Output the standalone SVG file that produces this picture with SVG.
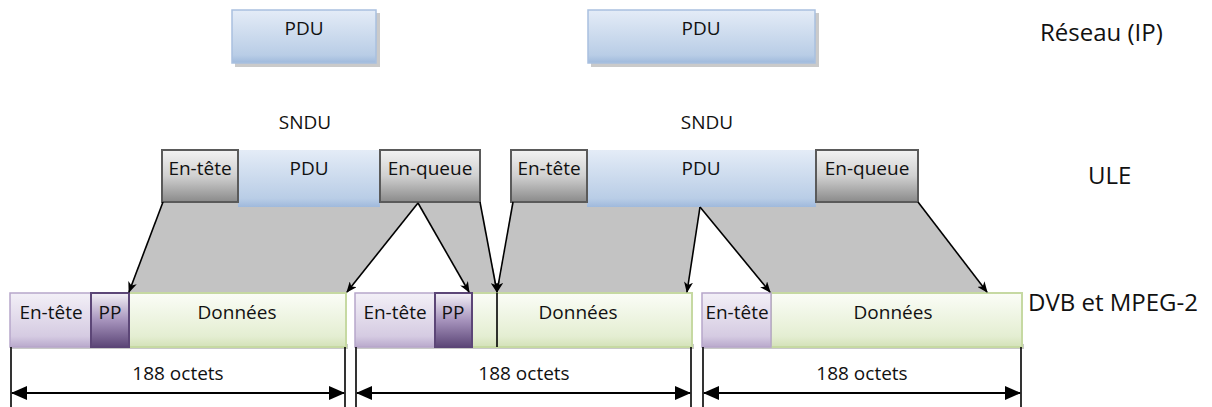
<svg xmlns="http://www.w3.org/2000/svg" width="1212" height="407" viewBox="0 0 1212 407">
<defs>
<linearGradient id="gBlue" x1="0" y1="0" x2="0" y2="1"><stop offset="0" stop-color="#e4ecf7"/><stop offset="0.85" stop-color="#b9cde6"/><stop offset="1" stop-color="#9fb9dc"/></linearGradient>
<linearGradient id="gGray" x1="0" y1="0" x2="0" y2="1"><stop offset="0" stop-color="#f2f2f2"/><stop offset="0.5" stop-color="#d0d0d0"/><stop offset="1" stop-color="#8a8a8a"/></linearGradient>
<linearGradient id="gLav" x1="0" y1="0" x2="0" y2="1"><stop offset="0" stop-color="#f3f0f7"/><stop offset="0.8" stop-color="#d5cbe2"/><stop offset="1" stop-color="#b9a9cc"/></linearGradient>
<linearGradient id="gPP" x1="0" y1="0" x2="0" y2="1"><stop offset="0" stop-color="#f4f1f7"/><stop offset="0.5" stop-color="#a794bd"/><stop offset="1" stop-color="#5c4677"/></linearGradient>
<linearGradient id="gGreen" x1="0" y1="0" x2="0" y2="1"><stop offset="0" stop-color="#fbfdf7"/><stop offset="0.8" stop-color="#e4eed2"/><stop offset="1" stop-color="#d3e1b8"/></linearGradient>
<marker id="ah" markerUnits="userSpaceOnUse" markerWidth="11" markerHeight="9" refX="10" refY="4.5" orient="auto"><path d="M0,0 L11,4.5 L0,9 L3,4.5 z" fill="#000"/></marker>
<marker id="dh" markerUnits="userSpaceOnUse" markerWidth="16" markerHeight="14" refX="15" refY="7" orient="auto-start-reverse"><path d="M0,0 L16,7 L0,14 z" fill="#000"/></marker>
</defs>
<style>
text{font-family:"Open Sans","Liberation Sans",sans-serif;fill:#111;text-anchor:middle}
.t{font-size:19px}
.big{font-size:24px;text-anchor:start}
.pdu{fill:url(#gBlue);stroke:#a9c0df;stroke-width:1.5}
.shadow{fill:#a6a6a6;opacity:0.6}
.gry{fill:url(#gGray);stroke:#5a5a5a;stroke-width:2}
.upd{fill:url(#gBlue);stroke:none}
.lav{fill:url(#gLav);stroke:#b7a6ca;stroke-width:1.5}
.pp{fill:url(#gPP);stroke:#5c4677;stroke-width:2}
.grn{fill:url(#gGreen);stroke:#c6d9a2;stroke-width:2}
.sh2{fill:#b0b0b0;opacity:0.7}
.conn{stroke:#000;stroke-width:1.6;fill:none;marker-end:url(#ah)}
.dim{stroke:#000;stroke-width:1.6;fill:none}
.dimarrow{stroke:#000;stroke-width:2;fill:none;marker-start:url(#dh);marker-end:url(#dh)}
.band{fill:#c3c3c3}
</style>

<g id="bands">
<polygon class="band" points="163,202 480,202 498,293 470,293 418,203 347,293 128,293"/>
<polygon class="band" points="513,202 918,202 987,293 770,293 700,207 687,293 498,293"/>
</g>

<g id="pdu-ip-1">
<rect class="shadow" x="235" y="13" width="145" height="54"/>
<rect class="pdu" x="232" y="10" width="144" height="53"/>
<text class="t" x="304" y="35">PDU</text>
</g>
<g id="pdu-ip-2">
<rect class="shadow" x="591" y="13" width="228" height="54"/>
<rect class="pdu" x="588" y="10" width="227" height="53"/>
<text class="t" x="701" y="35">PDU</text>
</g>

<text class="t" x="305" y="129">SNDU</text>
<text class="t" x="707" y="129">SNDU</text>

<g id="sndu-1">
<rect class="upd" x="238" y="150" width="142" height="57"/>
<text class="t" x="309" y="175">PDU</text>
<rect class="gry" x="162" y="150" width="76" height="52"/>
<text class="t" x="200" y="175">En-tête</text>
<rect class="gry" x="380" y="150" width="100" height="52"/>
<text class="t" x="430" y="175">En-queue</text>
</g>
<g id="sndu-2">
<rect class="upd" x="587" y="150" width="229" height="57"/>
<text class="t" x="701" y="175">PDU</text>
<rect class="gry" x="511" y="150" width="76" height="52"/>
<text class="t" x="549" y="175">En-tête</text>
<rect class="gry" x="816" y="150" width="102" height="52"/>
<text class="t" x="867" y="175">En-queue</text>
</g>

<g id="packet-1">
<rect class="sh2" x="12" y="344" width="336" height="5"/>
<rect class="grn" x="129" y="293" width="217" height="54"/>
<rect class="lav" x="10" y="293" width="81" height="54"/>
<rect class="pp" x="91" y="293" width="38" height="54"/>
<text class="t" x="51" y="319">En-tête</text>
<text class="t" x="110" y="319">PP</text>
<text class="t" x="237" y="319">Données</text>
</g>
<g id="packet-2">
<rect class="sh2" x="357" y="344" width="337" height="5"/>
<rect class="grn" x="472" y="293" width="220" height="54"/>
<rect class="lav" x="355" y="293" width="80" height="54"/>
<rect class="pp" x="435" y="293" width="37" height="54"/>
<line x1="497" y1="293" x2="497" y2="347" stroke="#000" stroke-width="1.6"/>
<text class="t" x="395" y="319">En-tête</text>
<text class="t" x="453" y="319">PP</text>
<text class="t" x="578" y="319">Données</text>
</g>
<g id="packet-3">
<rect class="sh2" x="704" y="344" width="320" height="5"/>
<rect class="grn" x="771" y="293" width="251" height="54"/>
<rect class="lav" x="702" y="293" width="69" height="54"/>
<text class="t" x="737" y="319">En-tête</text>
<text class="t" x="893" y="319">Données</text>
</g>

<g id="connectors">
<line class="conn" x1="163" y1="202" x2="129" y2="292"/>
<line class="conn" x1="418" y1="203" x2="347" y2="292"/>
<line class="conn" x1="418" y1="203" x2="469" y2="292"/>
<line class="conn" x1="480" y1="202" x2="497" y2="292"/>
<line class="conn" x1="513" y1="202" x2="497" y2="292"/>
<line class="conn" x1="700" y1="207" x2="687" y2="292"/>
<line class="conn" x1="700" y1="207" x2="770" y2="292"/>
<line class="conn" x1="918" y1="202" x2="987" y2="292"/>
</g>

<g id="dimensions">
<line class="dim" x1="11" y1="347" x2="11" y2="407"/>
<line class="dim" x1="345" y1="347" x2="345" y2="407"/>
<line class="dimarrow" x1="12" y1="393" x2="344" y2="393"/>
<text class="t" x="178" y="380">188 octets</text>
<line class="dim" x1="356" y1="347" x2="356" y2="407"/>
<line class="dim" x1="691" y1="347" x2="691" y2="407"/>
<line class="dimarrow" x1="357" y1="393" x2="690" y2="393"/>
<text class="t" x="524" y="380">188 octets</text>
<line class="dim" x1="703" y1="347" x2="703" y2="407"/>
<line class="dim" x1="1021" y1="347" x2="1021" y2="407"/>
<line class="dimarrow" x1="704" y1="393" x2="1020" y2="393"/>
<text class="t" x="862" y="380">188 octets</text>
</g>

<g id="layers">
<text class="big" x="1040" y="41">Réseau (IP)</text>
<text class="big" x="1088" y="184">ULE</text>
<text class="big" x="1028" y="311">DVB et MPEG-2</text>
</g>
</svg>
